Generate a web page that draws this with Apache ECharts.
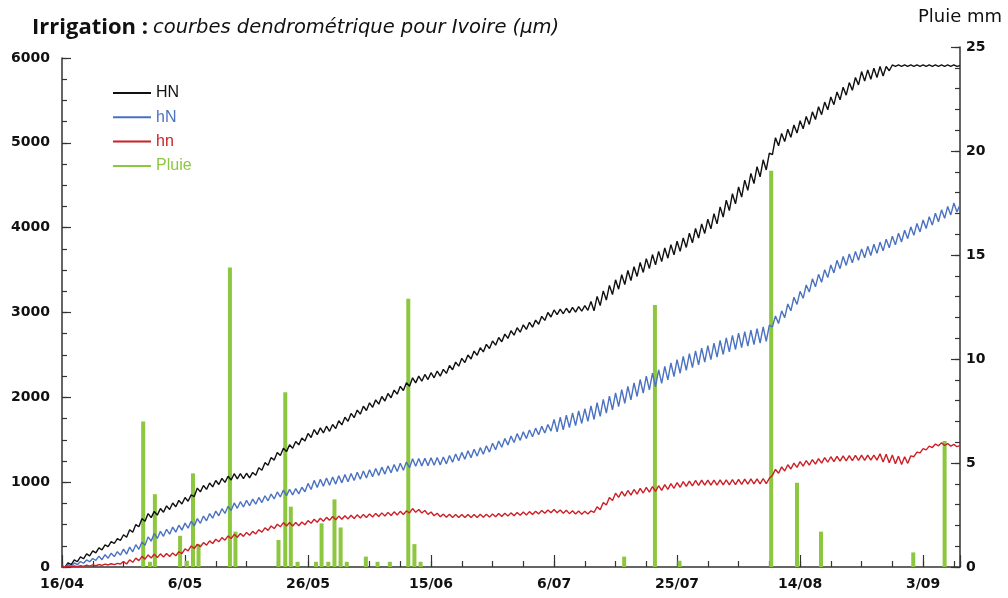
<!DOCTYPE html>
<html><head><meta charset="utf-8">
<script src="https://cdn.jsdelivr.net/npm/echarts@6/dist/echarts.min.js"></script>
<style>html,body{margin:0;padding:0;background:#fff}#c{width:1008px;height:598px}</style>
</head><body><div id="c"></div>
<script>
// X tick labels (every 20 days from 16/04)
const xLabels = ['16/04','6/05','26/05','15/06','6/07','25/07','14/08','3/09'];

// Dendrometer curves (µm), one value every half day from 16/04 (day 0) to day 146
const HN = [10,0,50,27,85,62,120,97,155,132,190,167,225,202,260,240,300,277,335,312,
380,350,440,410,500,475,570,540,630,582,655,612,690,645,720,677,755,710,785,742,
820,775,850,830,930,885,960,915,990,945,1020,972,1045,997,1070,1025,1100,1040,1100,1042,
1105,1050,1115,1082,1170,1140,1230,1200,1290,1260,1350,1315,1400,1360,1440,1400,1480,1440,1520,1485,
1575,1527,1620,1560,1640,1580,1660,1600,1680,1632,1725,1675,1765,1717,1810,1760,1850,1802,1895,1845,
1935,1882,1970,1920,2010,1957,2045,1995,2085,2037,2130,2081,2172,2131,2230,2170,2250,2190,2270,2210,
2290,2230,2310,2250,2330,2282,2375,2325,2415,2367,2460,2410,2500,2452,2545,2495,2585,2535,2625,2575,
2665,2615,2705,2655,2745,2695,2785,2733,2820,2768,2855,2800,2885,2827,2910,2862,2955,2907,3000,2947,
3030,2975,3040,2985,3050,2995,3060,3005,3070,3015,3080,3025,3130,3020,3190,3082,3255,3147,3320,3212,
3385,3275,3446,3330,3495,3377,3540,3425,3590,3472,3635,3519,3683,3561,3720,3600,3760,3640,3800,3680,
3840,3720,3880,3767,3935,3822,3990,3877,4045,3932,4100,3987,4165,4045,4245,4125,4325,4202,4400,4280,
4480,4360,4560,4440,4640,4520,4720,4600,4800,4680,4880,4860,5060,4965,5110,5015,5160,5065,5210,5115,
5260,5165,5310,5217,5365,5275,5425,5332,5480,5390,5540,5450,5600,5507,5655,5562,5710,5620,5770,5683,
5840,5728,5860,5750,5880,5770,5900,5788,5900,5850,5918,5902,5918,5902,5918,5902,5918,5902,5918,5902,
5918,5902,5918,5902,5918,5902,5918,5902,5918,5902,5918,5902,5910];

const hN = [10,0,30,9,48,27,65,44,83,62,100,79,128,86,145,104,163,122,180,140,
210,152,235,179,263,209,295,255,355,305,395,337,420,362,445,387,470,411,493,435,
517,458,540,485,570,515,600,545,630,575,660,603,687,631,715,665,755,692,770,707,
785,722,800,740,820,760,840,780,860,802,885,826,907,841,915,850,925,862,940,887,
985,913,1021,938,1035,951,1048,964,1060,977,1075,992,1089,1006,1103,1020,1117,1035,1132,1050,
1147,1065,1162,1080,1177,1095,1192,1110,1207,1125,1222,1140,1237,1170,1276,1188,1280,1192,1283,1195,
1287,1199,1291,1204,1296,1216,1315,1234,1333,1252,1351,1271,1370,1289,1388,1307,1407,1329,1430,1354,
1458,1382,1486,1411,1515,1439,1543,1467,1572,1493,1593,1514,1615,1536,1637,1558,1658,1579,1680,1602,
1740,1592,1765,1617,1790,1642,1815,1667,1840,1692,1865,1717,1900,1739,1938,1777,1976,1815,2014,1853,
2052,1891,2090,1930,2130,1970,2170,2010,2210,2050,2250,2088,2286,2125,2325,2165,2365,2205,2405,2245,
2445,2284,2483,2319,2515,2351,2547,2383,2580,2415,2610,2445,2640,2475,2670,2505,2700,2535,2730,2564,
2758,2586,2775,2604,2793,2621,2810,2640,2830,2660,2850,2830,2960,2870,3020,2940,3100,3020,3180,3095,
3250,3167,3325,3241,3397,3303,3450,3357,3505,3412,3560,3467,3615,3517,3660,3555,3690,3585,3720,3615,
3750,3645,3780,3672,3805,3697,3830,3727,3865,3762,3900,3797,3935,3832,3970,3870,4010,3910,4050,3950,
4090,3990,4130,4030,4170,4070,4210,4110,4250,4150,4290,4185,4270];

const hn = [3,0,9,0,13,3,17,7,21,11,25,15,29,19,34,24,38,28,43,35,
65,35,85,55,105,75,125,93,142,106,150,112,155,117,160,123,166,133,180,157,
215,191,248,218,268,238,288,258,308,277,327,297,347,316,366,335,385,350,395,361,
408,374,420,390,440,411,462,432,483,453,504,474,524,484,524,484,524,487,530,498,
547,515,563,528,574,539,585,550,595,557,600,562,605,567,610,572,615,577,620,583,
626,589,632,595,638,601,644,607,650,613,656,618,661,637,689,646,678,636,666,621,
648,604,633,592,623,586,621,584,620,584,620,584,620,584,620,584,621,586,623,588,
626,592,630,596,634,600,638,604,642,609,648,614,653,619,658,626,666,633,673,639,
678,639,673,634,668,629,663,625,660,623,658,624,663,644,710,675,760,730,820,785,
870,820,890,836,902,848,914,860,926,872,938,882,947,892,958,904,970,916,982,928,
994,940,1006,950,1013,956,1020,962,1025,965,1025,965,1025,966,1027,967,1028,969,1030,971,
1032,973,1035,976,1038,979,1040,981,1043,984,1045,1080,1150,1105,1180,1132,1205,1155,1225,1174,
1243,1189,1255,1201,1267,1212,1278,1224,1290,1235,1300,1242,1305,1247,1310,1251,1313,1254,1316,1257,
1318,1258,1319,1259,1320,1260,1335,1237,1330,1230,1320,1218,1307,1208,1300,1222,1310,1300,1355,1345,
1395,1380,1425,1408,1450,1428,1465,1432,1455,1425,1445,1418,1430];

// Rain (mm): day position and amount
const rainDay = [13.2,14.3,15.1,19.2,20.3,21.3,22.2,27.3,28.2,35.2,36.3,37.2,38.3,41.3,42.2,43.3,44.3,45.3,46.3,49.4,51.3,53.3,56.3,57.3,58.3,91.4,96.4,100.4,115.3,119.5,123.4,138.4,143.5];
const rainMm = [7.0,0.25,3.5,1.5,0.3,4.5,1.1,14.4,1.7,1.3,8.4,2.9,0.25,0.25,2.1,0.25,3.25,1.9,0.25,0.5,0.25,0.25,12.9,1.1,0.25,0.5,12.6,0.3,19.05,4.05,1.7,0.7,6.06];

const toXY = arr => arr.map((v, i) => [i * 0.5, v]);
const chart = echarts.init(document.getElementById('c'), null, {renderer: 'canvas'});
const axLine = {show: true, onZero: false, lineStyle: {color: '#333', width: 1.5}};
const tickStyle = {color: '#333', width: 1.2};
const lab = {fontFamily: 'DejaVu Sans', fontWeight: 'bold', fontSize: 14, color: '#111'};
const C = {HN: '#111111', hN: '#4a72c0', hn: '#cc1f26', Pluie: '#8dc63f'};
const G0 = {left: 62, right: 48, top: 58, bottom: 31};
const G1 = {left: 62, right: 48, top: 47, bottom: 31};
// axes in twin grids that only draw the longer major tick marks
const tickOnly = (extra, len) => Object.assign({type: 'value', axisLine: {show: false, onZero: false}, axisLabel: {show: false},
  splitLine: {show: false}, axisTick: {show: true, inside: true, length: len, lineStyle: tickStyle}}, extra);
const hiddenX = (g) => ({type: 'value', gridIndex: g, min: 0, max: 146, show: false,
  axisLine: {show: false, onZero: false}, splitLine: {show: false}});

chart.setOption({
  animation: false,
  backgroundColor: '#fff',
  title: {
    left: 27, top: 12,
    text: '{a|Irrigation :} {b|courbes dendrométrique pour Ivoire (µm)}',
    textStyle: {
      rich: {
        a: {fontFamily: 'Open Sans', fontWeight: 'bold', fontSize: 22, color: '#111'},
        b: {fontFamily: 'DejaVu Sans', fontStyle: 'italic', fontWeight: 'normal', fontSize: 19.5, color: '#111'}
      }
    }
  },
  graphic: [{type: 'text', left: 918, top: 8,
    style: {text: 'Pluie mm', font: '18px "DejaVu Sans"', fill: '#111'}}],
  legend: {
    orient: 'vertical', left: 108, top: 80, icon: 'rect', itemWidth: 38, itemHeight: 2, itemGap: 8.3,
    textStyle: {fontFamily: 'Liberation Sans', fontSize: 16, lineHeight: 16},
    data: ['HN', 'hN', 'hn', 'Pluie'].map(n => ({name: n, itemStyle: {color: C[n]}, textStyle: {color: C[n]}}))
  },
  grid: [G0, G1, G0, G1],
  xAxis: [
    {type: 'value', gridIndex: 0, min: 0, max: 146, interval: 5,
     axisLine: axLine, axisTick: {inside: true, length: 6, lineStyle: tickStyle},
     splitLine: {show: false},
     axisLabel: Object.assign({margin: 10, formatter: v => (v % 20 === 0 ? xLabels[v / 20] : '')}, lab)},
    hiddenX(1),
    tickOnly({gridIndex: 2, min: 0, max: 146, interval: 20}, 12),
    hiddenX(3)
  ],
  yAxis: [
    {type: 'value', gridIndex: 0, min: 0, max: 6000, interval: 250, position: 'left',
     axisLine: axLine, axisTick: {show: true, inside: true, length: 5, lineStyle: tickStyle},
     splitLine: {show: false},
     axisLabel: Object.assign({margin: 12, formatter: v => (v % 1000 === 0 ? String(v) : '')}, lab)},
    {type: 'value', gridIndex: 1, min: 0, max: 25, interval: 1, position: 'right',
     axisLine: axLine, axisTick: {show: true, inside: true, length: 5, lineStyle: tickStyle},
     splitLine: {show: false},
     axisLabel: Object.assign({margin: 6, formatter: v => (v % 5 === 0 ? String(v) : '')}, lab)},
    tickOnly({gridIndex: 2, min: 0, max: 6000, interval: 1000, position: 'left'}, 9),
    tickOnly({gridIndex: 3, min: 0, max: 25, interval: 5, position: 'right'}, 9)
  ],
  series: [
    {name: 'HN', type: 'line', xAxisIndex: 0, yAxisIndex: 0, data: toXY(HN), showSymbol: false, symbol: 'none',
     lineStyle: {color: C.HN, width: 1.4}, itemStyle: {color: C.HN}},
    {name: 'hN', type: 'line', xAxisIndex: 0, yAxisIndex: 0, data: toXY(hN), showSymbol: false, symbol: 'none',
     lineStyle: {color: C.hN, width: 1.4}, itemStyle: {color: C.hN}},
    {name: 'hn', type: 'line', xAxisIndex: 0, yAxisIndex: 0, data: toXY(hn), showSymbol: false, symbol: 'none',
     lineStyle: {color: C.hn, width: 1.4}, itemStyle: {color: C.hn}},
    {name: 'Pluie', type: 'bar', xAxisIndex: 1, yAxisIndex: 1, barWidth: 4,
     data: rainDay.map((d, i) => [d, rainMm[i]]), itemStyle: {color: C.Pluie}}
  ]
});
</script>
</body></html>
